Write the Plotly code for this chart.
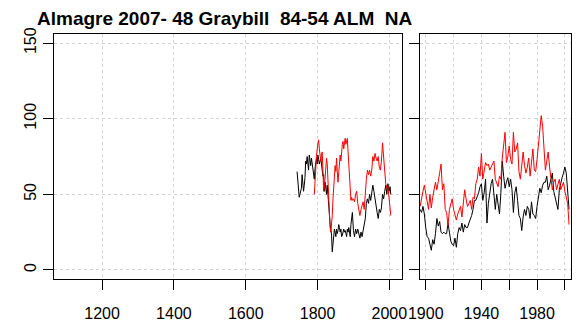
import plotly.graph_objects as go

# ---- data ----
# earlier part, seen in the long (left) panel
black_years_early = list(range(1743, 1896, 2))
black_vals_early = [65, 58, 52, 48, 50, 52, 54, 63, 58, 52, 56, 61, 72, 70, 75, 68, 66, 76, 72, 69,
                    74, 70, 64, 62, 60, 67, 72, 74, 70, 76, 73, 70, 72, 74, 70, 65, 62, 63, 52, 58,
                    55, 50, 56, 48, 43, 36, 30, 27, 23, 12, 18, 21, 27, 25, 22, 27, 24, 26, 30, 28,
                    25, 27, 22, 23, 26, 27, 25, 26, 24, 22, 27, 25, 28, 22, 22, 30, 33]
red_years_early = list(range(1791, 1896, 2))
red_vals_early = [50, 62, 68, 75, 80, 84, 86, 80, 73, 72, 76, 78, 66, 52, 54, 60, 65, 74, 70, 56,
                  45, 38, 28, 25, 30, 36, 47, 58, 63, 69, 65, 74, 65, 58, 64, 70, 76, 72, 80, 83,
                  85, 80, 84, 87, 83, 86, 87, 78, 69, 60, 56, 46, 48]

# 20th century as drawn in the long (left) panel
left_late_years = list(range(1897, 2003, 3)) + [2004]
black_left_late = [38, 26, 22, 27, 24, 27, 23, 21, 25, 22, 26, 30, 34, 44, 47, 44, 50, 46, 50, 56,
                   52, 46, 44, 38, 34, 40, 38, 41, 50, 47, 52, 56, 50, 57, 52, 55, 50]
red_left_late = [46, 47, 45, 50, 52, 44, 38, 36, 40, 42, 45, 40, 52, 60, 66, 63, 66, 62, 66, 75,
                 72, 77, 74, 72, 75, 68, 66, 72, 84, 75, 62, 57, 54, 55, 48, 40, 36]

# 20th century as drawn in the short (right) panel, one value per year
right_years = list(range(1896, 2004))
black_right = [40, 38, 42, 37, 28, 22, 21, 17, 13, 20, 17, 24, 34, 29, 32, 25, 24, 25, 24, 24,
               31, 25, 19, 17, 16, 21, 15, 24, 28, 26, 31, 25, 30, 28, 28, 31, 33, 36, 40, 46,
               46, 48, 51, 55, 57, 46, 51, 60, 31, 44, 51, 57, 60, 48, 40, 50, 42, 37, 51, 72,
               62, 54, 58, 61, 55, 60, 53, 38, 51, 55, 46, 36, 34, 26, 35, 40, 36, 42, 40, 34,
               45, 37, 36, 34, 42, 48, 54, 51, 56, 58, 58, 62, 53, 56, 60, 64, 52, 48, 44, 40,
               53, 58, 61, 64, 68, 64, 51, 40]
red_right = [42, 48, 52, 56, 50, 46, 40, 50, 41, 48, 52, 58, 53, 60, 64, 70, 53, 57, 40, 38,
             29, 40, 44, 47, 40, 36, 33, 37, 40, 42, 35, 46, 53, 47, 42, 44, 46, 40, 48, 47,
             57, 60, 68, 62, 77, 60, 66, 71, 69, 70, 66, 68, 71, 72, 60, 57, 55, 62, 60, 74,
             84, 91, 71, 75, 82, 73, 70, 91, 78, 80, 84, 65, 60, 72, 78, 69, 64, 68, 74, 62,
             70, 80, 66, 65, 73, 84, 95, 102, 95, 80, 66, 72, 78, 68, 62, 53, 58, 60, 53, 56,
             60, 53, 55, 58, 52, 48, 44, 30]

left_ticks = [1200, 1400, 1600, 1800, 2000]
right_ticks = [1900, 1920, 1940, 1960, 1980, 2000]
right_tick_text = ["1900", "", "1940", "", "1980", ""]
y_ticks = [0, 50, 100, 150]
title_text = "Almagre 2007- 48 Graybill\u00a0\u00a084-54 ALM\u00a0\u00a0NA"

FONT = "Liberation Sans, Arial, sans-serif"

fig = go.Figure()
# left panel
fig.add_trace(go.Scatter(x=black_years_early + left_late_years,
                         y=black_vals_early + black_left_late, mode="lines",
                         line=dict(color="black", width=1), xaxis="x", yaxis="y",
                         hoverinfo="skip"))
fig.add_trace(go.Scatter(x=red_years_early + left_late_years,
                         y=red_vals_early + red_left_late, mode="lines",
                         line=dict(color="red", width=1), xaxis="x", yaxis="y",
                         hoverinfo="skip"))
# right panel
fig.add_trace(go.Scatter(x=right_years, y=black_right, mode="lines",
                         line=dict(color="black", width=1), xaxis="x2", yaxis="y2",
                         hoverinfo="skip"))
fig.add_trace(go.Scatter(x=right_years, y=red_right, mode="lines",
                         line=dict(color="red", width=1), xaxis="x2", yaxis="y2",
                         hoverinfo="skip"))

common = dict(showline=True, mirror=True, linecolor="black", linewidth=1,
              ticks="outside", ticklen=10, tickwidth=1, tickcolor="black",
              showgrid=True, gridcolor="#d3d3d3", griddash="dot", gridwidth=1,
              zeroline=False, automargin=False,
              tickfont=dict(family=FONT, size=16, color="black"))

fig.update_layout(
    template="none",
    width=587, height=330,
    margin=dict(l=54, r=16, t=34, b=51, pad=0),
    paper_bgcolor="white", plot_bgcolor="white",
    showlegend=False,
    title=dict(text=title_text, x=37 / 587, xref="container", xanchor="left",
               y=1 - 18 / 330, yref="container", yanchor="middle",
               font=dict(family=FONT, size=19, color="black", weight="bold")),
    xaxis=dict(domain=[0, 0.674], range=[1066, 2036.5], tickvals=left_ticks,
               ticklabelstandoff=10, anchor="y", **common),
    yaxis=dict(domain=[0, 1], range=[-6, 156], tickvals=y_ticks, tickangle=-90,
               ticklabelstandoff=1, anchor="x", **common),
    xaxis2=dict(domain=[0.708, 1], range=[1895.9, 2004.4], tickvals=right_ticks,
                ticktext=right_tick_text, ticklabelstandoff=10, anchor="y2", **common),
    yaxis2=dict(domain=[0, 1], range=[-6, 156], tickvals=y_ticks,
                ticktext=["", "", "", ""], anchor="x2", **common),
)

fig.write_html("out.html")
